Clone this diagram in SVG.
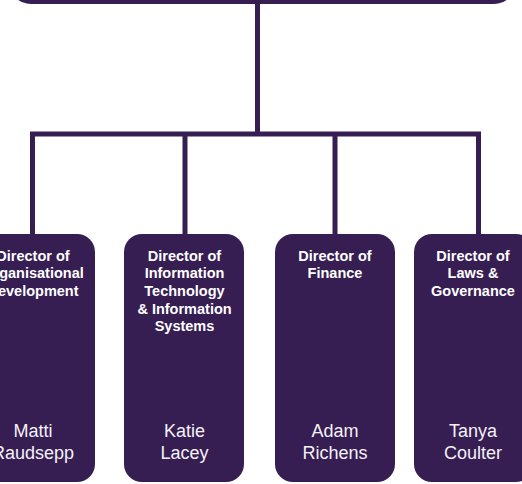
<svg xmlns="http://www.w3.org/2000/svg" width="522" height="484" viewBox="0 0 522 484">
<style>
.box{fill:#361d52}
.conn{fill:none;stroke:#361d52;stroke-width:5;stroke-linecap:butt}
.t{font-family:"Liberation Sans",Arial,sans-serif;font-weight:bold;font-size:14.5px;fill:#ffffff;text-anchor:middle}
.n{font-family:"Liberation Sans",Arial,sans-serif;font-size:18px;fill:#f4f2f7;text-anchor:middle}
</style>
<rect width="522" height="484" fill="#ffffff"/>
<g id="top">
<rect class="box" x="9" y="-40" width="507" height="44" rx="22" ry="22"/>
</g>
<g id="connectors">
<path class="conn" d="M257.5 2 V134 M30 134 H481 M32.5 131.5 V236 M185 131.5 V236 M335 131.5 V236 M478.5 131.5 V236"/>
</g>
<g id="dir-od">
<rect class="box" x="-27" y="234" width="122" height="248" rx="18" ry="18"/>
<text class="t" x="33" y="260.5">Director of</text>
<text class="t" x="33" y="278.2">Organisational</text>
<text class="t" x="33" y="295.9">Development</text>
<text class="n" x="33" y="436.5">Matti</text>
<text class="n" x="33" y="459">Raudsepp</text>
</g>
<g id="dir-it">
<rect class="box" x="124" y="234" width="120" height="248" rx="18" ry="18"/>
<text class="t" x="184.5" y="260.5">Director of</text>
<text class="t" x="184.5" y="278.2">Information</text>
<text class="t" x="184.5" y="295.9">Technology</text>
<text class="t" x="184.5" y="313.6">&amp; Information</text>
<text class="t" x="184.5" y="331.3">Systems</text>
<text class="n" x="184.5" y="436.5">Katie</text>
<text class="n" x="184.5" y="459">Lacey</text>
</g>
<g id="dir-fin">
<rect class="box" x="275" y="234" width="120" height="248" rx="18" ry="18"/>
<text class="t" x="335" y="260.5">Director of</text>
<text class="t" x="335" y="278.2">Finance</text>
<text class="n" x="335" y="436.5">Adam</text>
<text class="n" x="335" y="459">Richens</text>
</g>
<g id="dir-law">
<rect class="box" x="414" y="234" width="120" height="248" rx="18" ry="18"/>
<text class="t" x="473" y="260.5">Director of</text>
<text class="t" x="473" y="278.2">Laws &amp;</text>
<text class="t" x="473" y="295.9">Governance</text>
<text class="n" x="473" y="436.5">Tanya</text>
<text class="n" x="473" y="459">Coulter</text>
</g>
</svg>
